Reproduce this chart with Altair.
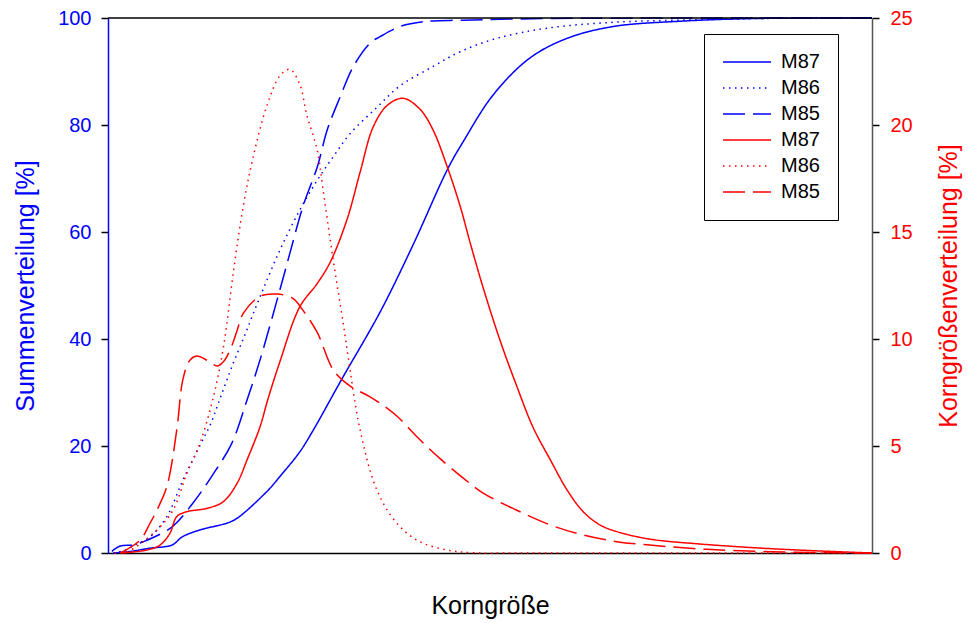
import altair as alt
import pandas as pd

# Korngröße (dimensionless position along the size axis, 0-100)
# Summenverteilung [%] (left axis)
x_sum_m87 = [0.7, 2.9, 5.5, 8.4, 9.7, 12.0, 15.6, 16.9, 20.8, 22.5, 25.1, 26.8, 30.6,
             35.6, 39.9, 44.5, 46.5, 50.4, 55.2, 60.1, 66.1, 74.9, 84.7, 100]
y_sum_m87 = [0, 0.3, 0.9, 1.5, 3.0, 4.3, 5.6, 6.5, 11.5, 14.3, 18.9, 22.8, 32.5,
             45.0, 57.5, 71.9, 76.9, 85.6, 92.5, 96.2, 98.4, 99.4, 99.9, 100]

x_sum_m86 = [0.7, 2.2, 3.5, 5.5, 7.7, 9.8, 12.0, 13.4, 14.7, 16.4, 17.7, 19.9, 22.5,
             25.1, 27.4, 29.5, 31.7, 35.2, 38.2, 42.5, 46.1, 50.9, 57.5, 66.1, 74.9,
             84.7, 100]
y_sum_m86 = [0, 0.5, 1.5, 3.0, 6.8, 13.6, 20.0, 24.0, 29.0, 35.5, 40.0, 47.9, 56.6,
             64.1, 69.7, 74.1, 78.4, 83.3, 87.3, 90.9, 93.7, 96.2, 98.1, 99.2, 99.6,
             99.9, 100]

x_sum_m85 = [0.5, 1.6, 3.3, 4.6, 8.4, 11.1, 13.7, 16.2, 18.2, 19.9, 22.5, 23.8, 25.5,
             27.4, 28.7, 30.4, 32.1, 34.3, 35.6, 38.2, 41.2, 46.5, 57.9, 100]
y_sum_m85 = [0.3, 1.3, 1.5, 2.1, 4.9, 9.3, 14.6, 20.5, 28.6, 36.1, 49.2, 56.0, 64.7,
             72.2, 79.1, 85.3, 90.9, 95.3, 96.5, 98.4, 99.3, 99.6, 99.9, 100]

# Korngrößenverteilung [%] (right axis)
x_dens_m87 = [1.8, 5.1, 6.8, 8.1, 9.0, 10.3, 13.0, 15.1, 16.9, 18.2, 19.9, 20.9, 22.5,
              25.1, 27.4, 29.1, 31.3, 33.0, 34.7, 36.5, 38.6, 40.8, 42.5, 44.4, 46.1,
              47.4, 49.1, 51.3, 53.5, 55.6, 57.9, 60.1, 62.2, 64.4, 66.6, 70.9, 77.5,
              84.9, 91.5, 100]
y_dens_m87 = [0, 0.14, 0.37, 0.92, 1.70, 1.93, 2.09, 2.40, 3.26, 4.35, 5.9, 7.15, 8.94,
              11.5, 12.6, 13.6, 15.6, 17.8, 19.9, 20.9, 21.25, 20.75, 19.8, 18.05, 16.2,
              14.5, 12.4, 9.95, 7.8, 5.9, 4.35, 2.94, 1.93, 1.31, 1.0, 0.65, 0.42,
              0.24, 0.12, 0]

x_dens_m86 = [0.9, 2.5, 6.4, 8.5, 10.3, 12.0, 13.7, 15.1, 16.4, 17.7, 19.0, 20.8, 22.5,
              23.8, 25.1, 26.0, 27.4, 28.1, 29.1, 30.0, 30.8, 31.3, 33.0, 35.2, 37.8,
              40.8, 44.4, 47.8, 53.9, 100]
y_dens_m86 = [0, 0.06, 1.07, 2.0, 3.7, 5.1, 7.15, 9.6, 13.1, 16.2, 18.5, 20.9, 22.3,
              22.6, 21.9, 20.5, 18.8, 17.1, 14.6, 12.5, 10.7, 9.5, 5.75, 2.94, 1.39,
              0.53, 0.14, 0.01, 0, 0]

x_dens_m85 = [1.6, 4.2, 5.5, 6.4, 7.7, 9.0, 9.8, 10.7, 11.6, 13.0, 14.3, 15.1, 16.0,
              16.9, 17.7, 19.9, 22.1, 24.2, 25.5, 27.4, 29.5, 31.7, 34.3, 35.6, 37.8,
              40.8, 43.5, 46.5, 49.1, 53.5, 57.9, 62.2, 66.6, 70.9, 78.4, 87.0, 95.8, 100]
y_dens_m85 = [0, 0.6, 1.39, 2.0, 3.1, 5.75, 8.1, 9.0, 9.2, 9.0, 8.74, 8.94, 9.5,
              10.4, 11.2, 12.0, 12.1, 11.9, 11.35, 10.3, 8.55, 7.8, 7.3, 7.0, 6.4,
              5.3, 4.4, 3.5, 2.8, 2.0, 1.31, 0.84, 0.53, 0.37, 0.17, 0.06, 0.01, 0]

series_keys = ["M87 Summe", "M86 Summe", "M85 Summe",
               "M87 Verteilung", "M86 Verteilung", "M85 Verteilung"]
series_colors = ["#0000ff", "#0000ff", "#0000ff", "#ff0000", "#ff0000", "#ff0000"]
series_dashes = [[1, 0], [1.5, 4.5], [22, 8], [1, 0], [1.5, 4.5], [22, 8]]

FONT = "Liberation Sans"
BLUE = "#0000ff"
RED = "#ff0000"


def long_table(parts):
    rows = []
    for key, xs, ys in parts:
        for i, (xv, yv) in enumerate(zip(xs, ys)):
            rows.append({"serie": key, "x": xv, "wert": yv, "ord": i})
    return pd.DataFrame(rows)


sum_df = long_table([
    ("M87 Summe", x_sum_m87, y_sum_m87),
    ("M86 Summe", x_sum_m86, y_sum_m86),
    ("M85 Summe", x_sum_m85, y_sum_m85),
])
dens_df = long_table([
    ("M87 Verteilung", x_dens_m87, y_dens_m87),
    ("M86 Verteilung", x_dens_m86, y_dens_m86),
    ("M85 Verteilung", x_dens_m85, y_dens_m85),
])

legend = alt.Legend(
    title=None,
    orient="none",
    legendX=596,
    legendY=16,
    symbolType="stroke",
    symbolSize=2304,
    symbolStrokeWidth=1.5,
    clipHeight=20,
    rowPadding=6,
    padding=18,
    labelOffset=9,
    labelFont=FONT,
    labelFontSize=20,
    labelColor="black",
    strokeColor="black",
    fillColor="white",
    labelExpr="split(datum.label, ' ')[0]",
)

color_enc = alt.Color("serie:N", scale=alt.Scale(domain=series_keys, range=series_colors),
                      legend=legend)
dash_enc = alt.StrokeDash("serie:N", scale=alt.Scale(domain=series_keys, range=series_dashes),
                          legend=legend)

x_axis = alt.Axis(
    title="Korngröße", labels=False, ticks=False, grid=False,
    domainColor="black", domainWidth=1.5,
    titleFont=FONT, titleFontSize=25, titleFontWeight="normal", titleColor="black",
    titleX=382, titleY=52, titleBaseline="middle", titleAlign="center",
)
x_enc = alt.X("x:Q", scale=alt.Scale(domain=[0, 100], nice=False, zero=False), axis=x_axis)

left = alt.Chart(sum_df).mark_line(strokeWidth=1.5, interpolate="catmull-rom").encode(
    x=x_enc,
    y=alt.Y("wert:Q", scale=alt.Scale(domain=[0, 100], nice=False),
            axis=alt.Axis(
                title="Summenverteilung [%]", orient="left", values=[0, 20, 40, 60, 80, 100],
                grid=False, tickSize=7, tickColor="black", tickWidth=1.5,
                domainColor=BLUE, domainWidth=1.5,
                labelColor=BLUE, labelFont=FONT, labelFontSize=20, labelPadding=10,
                titleColor=BLUE, titleFont=FONT, titleFontSize=25, titleFontWeight="normal",
                titleAngle=270, titleX=-83, titleY=267.5,
                titleAlign="center", titleBaseline="middle",
            )),
    color=color_enc,
    strokeDash=dash_enc,
    order="ord:Q",
)

right = alt.Chart(dens_df).mark_line(strokeWidth=1.5, interpolate="catmull-rom").encode(
    x=x_enc,
    y=alt.Y("wert:Q", scale=alt.Scale(domain=[0, 25], nice=False),
            axis=alt.Axis(
                title="Korngrößenverteilung [%]", orient="right", values=[0, 5, 10, 15, 20, 25],
                grid=False, tickSize=7, tickColor="black", tickWidth=1.5,
                domainColor="#555555", domainWidth=1.5,
                labelColor=RED, labelFont=FONT, labelFontSize=20, labelPadding=11,
                titleColor=RED, titleFont=FONT, titleFontSize=25, titleFontWeight="normal",
                titleAngle=270, titleX=76, titleY=267.5,
                titleAlign="center", titleBaseline="middle",
            )),
    color=color_enc,
    strokeDash=dash_enc,
    order="ord:Q",
)

# closing line along the top of the plot frame
frame_top = alt.Chart(pd.DataFrame({"k": [0]})).mark_rule(color="black", strokeWidth=1.5).encode(
    x=alt.value(0), x2=alt.value(764), y=alt.value(0)
)

chart = (
    alt.layer(left, right, frame_top)
    .resolve_scale(y="independent")
    .properties(
        width=764,
        height=535,
        autosize="none",
        padding={"left": 108, "top": 18, "right": 99, "bottom": 70},
        background="white",
    )
    .configure_view(stroke=None)
)

chart.save("out.html", embed_options={"renderer": "svg", "actions": False})
